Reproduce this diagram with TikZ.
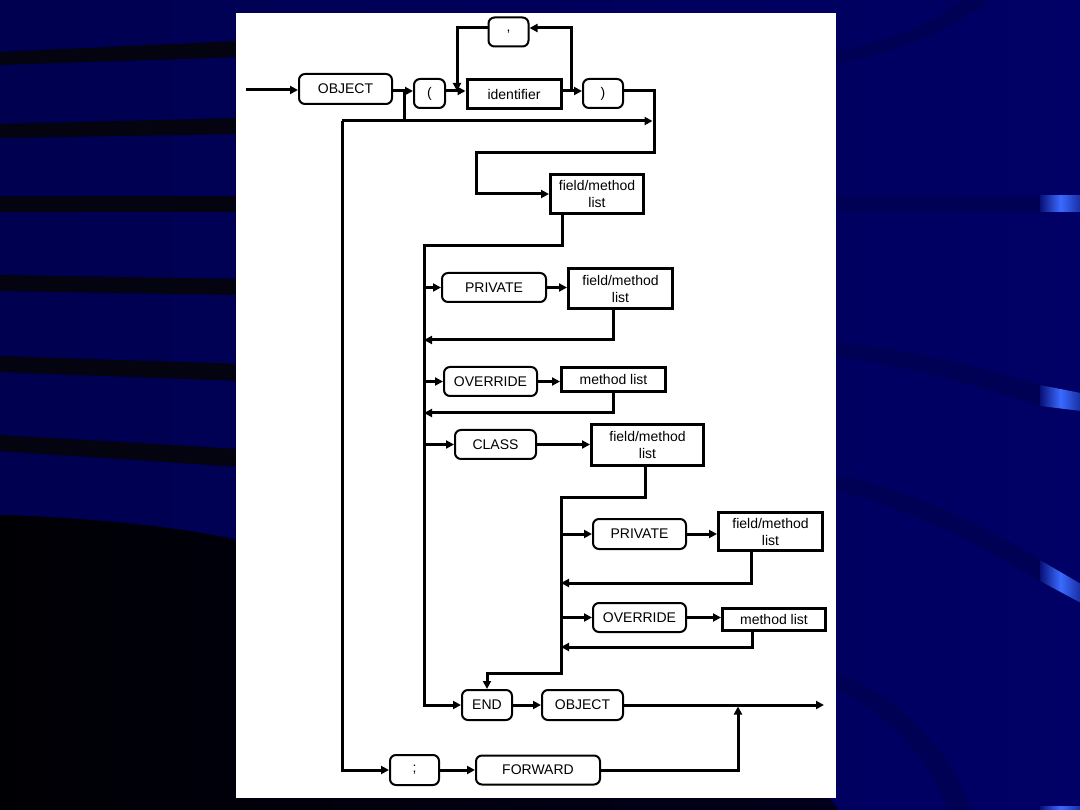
\documentclass[tikz,border=0pt]{standalone}
\usepackage{fontspec}
\setmainfont{Liberation Sans}
\usetikzlibrary{arrows.meta}
\definecolor{navyL}{RGB}{0,0,80}
\definecolor{navyR}{RGB}{0,0,102}
\definecolor{streakdark}{RGB}{4,4,16}
\definecolor{streakfaint}{RGB}{0,0,84}
\definecolor{hiblue}{RGB}{58,107,255}
\definecolor{hiedge}{RGB}{8,16,120}
\definecolor{blackL}{RGB}{0,0,4}
\definecolor{blackR}{RGB}{0,0,28}
\begin{document}
\begin{tikzpicture}[x=1pt,y=-1pt,
  line/.style={line width=3pt, line join=miter},
  conn/.style={line, -{Triangle[length=8pt,width=8pt]}},
  txt/.style={font=\fontsize{14}{17}\selectfont, text=black},
  rbox/.style={txt, draw=black, fill=white, rounded corners=6pt, line width=2pt, inner sep=0pt},
  sbox/.style={txt, draw=black, fill=white, line width=3pt, inner sep=0pt, align=center},
  hilite/.style={left color=hiedge, right color=hiedge!70!hiblue, middle color=hiblue},
]
\useasboundingbox (0,0) rectangle (1080,810);
% ---------- background ----------
\fill[left color=navyL, right color=navyR] (0,0) rectangle (1080,810);
\fill[left color=blackL, right color=blackR]
  (-1,515) .. controls (100,518) and (200,530) .. (240,541)
  .. controls (500,600) and (750,700) .. (840,811) -- (-1,811) -- cycle;
\fill[streakdark] (-1,52) -- (240,41) -- (240,57) -- (-1,65) -- cycle;
\fill[streakdark] (-1,124) -- (240,118) -- (240,134) -- (-1,138) -- cycle;
\fill[streakdark] (-1,196) -- (240,196) -- (240,212) -- (-1,212) -- cycle;
\fill[streakdark] (-1,275) -- (240,279) -- (240,295) -- (-1,291) -- cycle;
\fill[streakdark] (-1,356) -- (240,364) -- (240,381) -- (-1,372) -- cycle;
\fill[streakdark] (-1,435) -- (240,449) -- (240,467) -- (-1,451) -- cycle;
% faint streaks on the right
\fill[streakfaint] (830,52) .. controls (890,42) and (930,25) .. (962,-1)
  -- (992,-1) .. controls (950,30) and (900,52) .. (830,66) -- cycle;
\fill[streakfaint] (830,196) rectangle (1040,212);
\fill[streakfaint] (830,341) .. controls (930,352) and (990,370) .. (1040,385)
  -- (1040,406) .. controls (990,390) and (930,370) .. (830,356) -- cycle;
\fill[streakfaint] (830,473) .. controls (930,495) and (990,530) .. (1040,560)
  -- (1040,581) .. controls (990,552) and (930,515) .. (830,488) -- cycle;
\fill[streakfaint] (830,669) .. controls (900,695) and (950,750) .. (972,811)
  -- (948,811) .. controls (930,760) and (890,712) .. (830,687) -- cycle;
% highlights
\fill[hilite] (1040,196) rectangle (1081,212);
\fill[hilite] (1040,385) -- (1081,393) -- (1081,411) -- (1040,406) -- cycle;
\fill[hilite] (1040,560) -- (1081,584) -- (1081,603) -- (1040,581) -- cycle;
\fill[hilite] (1040,806) rectangle (1081,811);
% white panel
\fill[white] (236,13) rectangle (836,798);
% ---------- nodes ----------
\node[rbox, minimum width=93pt, minimum height=30pt] (obj1) at (345.5,89) {OBJECT};
\node[rbox, minimum width=31pt, minimum height=29pt] (lp) at (429.5,93.5) {(};
\node[sbox, minimum width=94pt, minimum height=29pt] (ident) at (514,94.5) {identifier};
\node[rbox, minimum width=40pt, minimum height=29pt] (rp) at (603,93.5) {)};
\node[rbox, minimum width=40pt, minimum height=29pt] (comma) at (508.5,32) {,};
\node[sbox, minimum width=93pt, minimum height=39pt] (fm1) at (597,194) {field/method\\list};
\node[rbox, minimum width=104pt, minimum height=29pt] (priv1) at (494,287.5) {PRIVATE};
\node[sbox, minimum width=104pt, minimum height=40pt] (fm2) at (620.5,288.5) {field/method\\list};
\node[rbox, minimum width=93pt, minimum height=29pt] (ovr1) at (490.5,381.5) {OVERRIDE};
\node[sbox, minimum width=104pt, minimum height=24pt] (ml1) at (613.5,379.5) {method list};
\node[rbox, minimum width=81pt, minimum height=29pt] (cls) at (495.5,444.5) {CLASS};
\node[sbox, minimum width=112pt, minimum height=41pt] (fm3) at (647.5,445) {field/method\\list};
\node[rbox, minimum width=93pt, minimum height=30pt] (priv2) at (639.5,534) {PRIVATE};
\node[sbox, minimum width=104pt, minimum height=38pt] (fm4) at (770.5,531.5) {field/method\\list};
\node[rbox, minimum width=93pt, minimum height=29pt] (ovr2) at (639.5,617.5) {OVERRIDE};
\node[sbox, minimum width=103pt, minimum height=22pt] (ml2) at (774,619.5) {method list};
\node[rbox, minimum width=50pt, minimum height=30pt] (end) at (487,705) {END};
\node[rbox, minimum width=81pt, minimum height=30pt] (obj2) at (582.5,705) {OBJECT};
\node[rbox, minimum width=49pt, minimum height=30pt] (semi) at (414.5,770) {;};
\node[rbox, minimum width=124pt, minimum height=29pt] (fwd) at (538,770) {FORWARD};
% ---------- coordinates ----------
\coordinate (start) at (246,90);
\coordinate (mainy) at (0,91);
\coordinate (b1) at (404,91);
\coordinate (byL) at (342,121);
\coordinate (byR) at (652.5,121);
\coordinate (lpL) at (457,28);
\coordinate (lpR) at (571,28);
\coordinate (c0) at (654,153);
\coordinate (c0b) at (476,153);
\coordinate (v1) at (562,246);
\coordinate (railA) at (424,246);
\coordinate (r2) at (613,340);
\coordinate (r3) at (613,413);
\coordinate (c3) at (645,497);
\coordinate (railB) at (561,497);
\coordinate (c4) at (561,673);
\coordinate (r4) at (751,583);
\coordinate (r5) at (752,647);
\coordinate (exit) at (824,705);
\coordinate (join) at (738,706.5);
% ---------- connectors ----------
\draw[conn] (start) -- (obj1.west |- start);
\draw[conn] (obj1.east |- mainy) -- (lp.west |- mainy);
\draw[line] (b1) -- (b1 |- byL);
\draw[conn] (byL) -- (byR);
\draw[conn] (lp.east |- mainy) -- (ident.west |- mainy);
\draw[conn] (ident.east |- mainy) -- (rp.west |- mainy);
\draw[conn] (lpR |- mainy) -- (lpR) -- (comma.east |- lpR);
\draw[conn] (comma.west |- lpL) -- (lpL) -- (lpL |- mainy);
\draw[conn] (rp.east |- mainy) -| (c0) -- (c0b) |- (fm1.west);
\draw[conn] (fm1.south -| v1) -- (v1) -- (railA) -- (railA |- end) -- (end.west);
\draw[conn] (railA |- priv1) -- (priv1.west);
\draw[conn] (priv1.east) -- (fm2.west |- priv1.east);
\draw[conn] (fm2.south -| r2) -- (r2) -- (railA |- r2);
\draw[conn] (railA |- ovr1) -- (ovr1.west);
\draw[conn] (ovr1.east) -- (ml1.west |- ovr1.east);
\draw[conn] (ml1.south -| r3) -- (r3) -- (railA |- r3);
\draw[conn] (railA |- cls) -- (cls.west);
\draw[conn] (cls.east) -- (fm3.west |- cls.east);
\draw[conn] (fm3.south -| c3) -- (c3) -- (railB) -- (c4) -- (c4 -| end.north) -- (end.north);
\draw[conn] (railB |- priv2) -- (priv2.west);
\draw[conn] (priv2.east) -- (fm4.west |- priv2.east);
\draw[conn] (fm4.south -| r4) -- (r4) -- (railB |- r4);
\draw[conn] (railB |- ovr2) -- (ovr2.west);
\draw[conn] (ovr2.east) -- (ml2.west |- ovr2.east);
\draw[conn] (ml2.south -| r5) -- (r5) -- (railB |- r5);
\draw[conn] (end.east) -- (obj2.west);
\draw[conn] (obj2.east) -- (exit);
\draw[conn] (byL) -- (byL |- semi) -- (semi.west);
\draw[conn] (semi.east) -- (fwd.west);
\draw[conn] (fwd.east) -| (join);
\end{tikzpicture}
\end{document}
